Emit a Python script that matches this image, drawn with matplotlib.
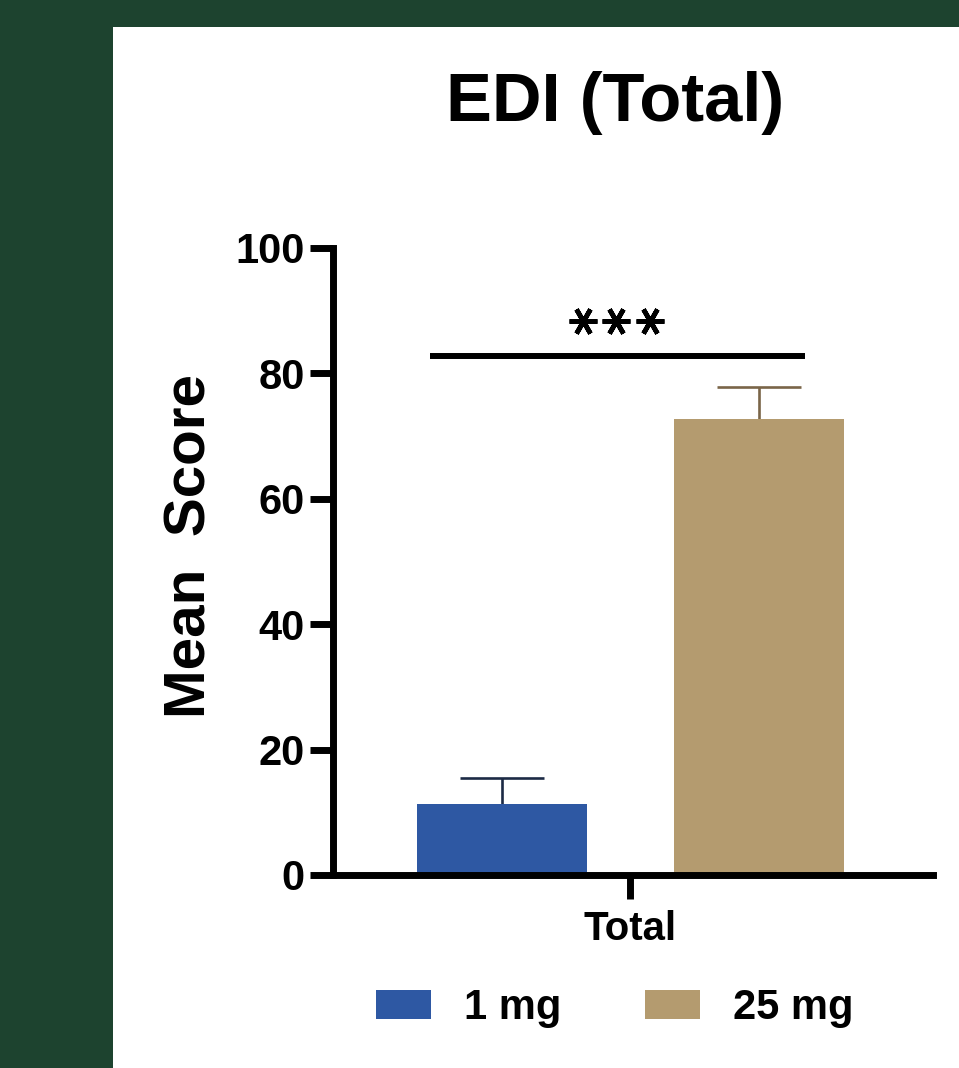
import matplotlib
matplotlib.use("Agg")
import matplotlib.pyplot as plt
from matplotlib.patches import Rectangle, Patch

plt.rcParams['font.family'] = ['Liberation Sans', 'DejaVu Sans']
plt.rcParams['font.weight'] = 'bold'

groups = ["1 mg", "25 mg"]
means = [11.3, 72.7]
errs_upper = [4.2, 5.1]
colors = ["#2e58a3", "#b49b6f"]
err_colors = ["#1c2a45", "#7a6548"]
category = ["Total"]
sig_y = 82.8
n_stars = 3  # "***"
yticks = [0, 20, 40, 60, 80, 100]

fig = plt.figure(figsize=(9.59, 10.68), dpi=100)
fig.patch.set_facecolor("#1d432f")
fig.add_artist(Rectangle((113/959, 0), 1 - 113/959, (1068 - 27)/1068,
                         transform=fig.transFigure, facecolor="white",
                         edgecolor="none", zorder=0))

ax = fig.add_axes([333/959, 193/1068, 600/959, 627/1068])
ax.set_facecolor("none")

offsets = [-0.5, 0.5]
width = 0.664
cap_half = 0.164
for i in range(2):
    ax.bar(offsets[i], means[i], width=width, color=colors[i], zorder=2, label=groups[i])
    top = means[i] + errs_upper[i]
    ax.vlines(offsets[i], means[i], top, color=err_colors[i], lw=1.9, zorder=1)
    ax.hlines(top, offsets[i] - cap_half, offsets[i] + cap_half, color=err_colors[i], lw=1.9, zorder=1)

ax.set_xlim(-1.16, 1.18)
ax.set_ylim(0, 100)
ax.set_yticks(yticks)
ax.set_xticks([0])
ax.set_xticklabels(category, fontsize=29, fontweight='bold')
ax.tick_params(axis='y', labelsize=30, width=5, length=16.5, pad=4)
ax.tick_params(axis='x', width=5, length=17, pad=8)
for lab in ax.get_yticklabels():
    lab.set_fontweight('bold')
for s in ['top', 'right']:
    ax.spines[s].set_visible(False)
for s in ['left', 'bottom']:
    ax.spines[s].set_linewidth(5)
    ax.spines[s].set_capstyle('projecting')

# significance bar
ax.plot([-0.78, 0.68], [sig_y, sig_y], color='black', lw=4.3, solid_capstyle='butt', clip_on=False)
star_center = -0.055
pitch = 0.13
star_x = [star_center + (k - (n_stars - 1) / 2) * pitch for k in range(n_stars)]
ax.plot(star_x, [sig_y + 5.6] * n_stars, linestyle='none', marker=(6, 2, 30),
        markersize=20, markeredgewidth=3.4, color='black', clip_on=False)

fig.text(615/959, 1 - 103/1068, "EDI (Total)", ha='center', va='center', fontsize=49.5, fontweight='bold')
fig.text(190/959, 1 - 546/1068, "Mean  Score", ha='center', va='center', rotation=90,
         fontsize=42, fontweight='bold')

handles = [Patch(facecolor=colors[i], edgecolor='none') for i in range(2)]
fig.legend(handles, groups, loc='center', bbox_to_anchor=(615/959, 1 - 1008/1068), ncol=2,
           frameon=False, prop={'size': 30, 'weight': 'bold'}, handlelength=1.32,
           handleheight=0.72, handletextpad=0.79, columnspacing=2.0)

fig.savefig("out.png", dpi=100, facecolor=fig.get_facecolor())
